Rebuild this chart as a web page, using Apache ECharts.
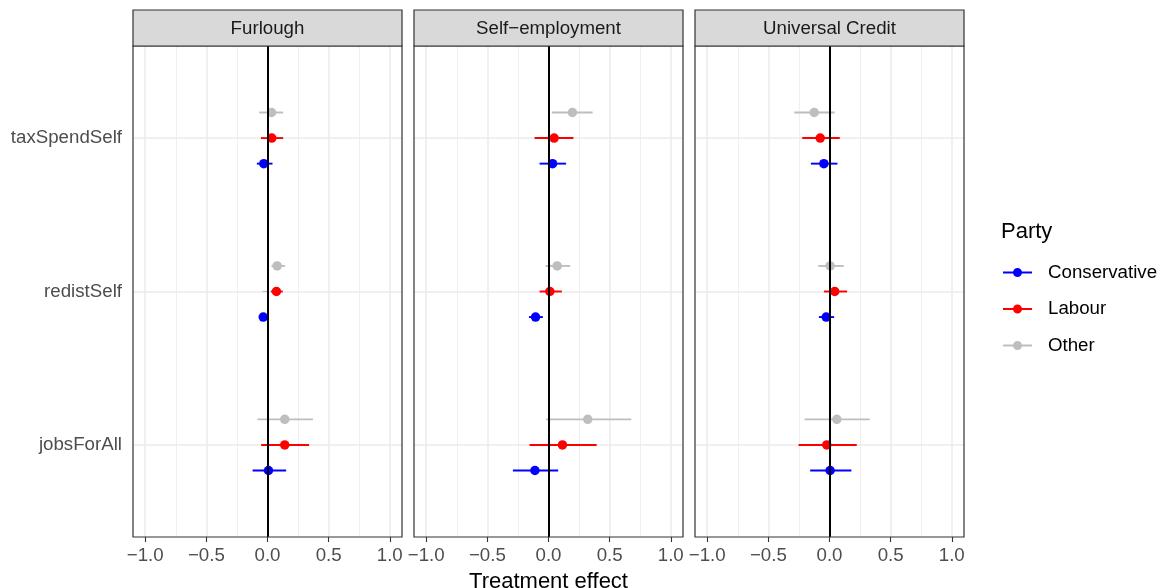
<!DOCTYPE html>
<html>
<head>
<meta charset="utf-8">
<script src="https://cdn.jsdelivr.net/npm/echarts@6/dist/echarts.min.js"></script>
<style>
  html, body { margin: 0; padding: 0; background: #ffffff; }
  #chart { width: 1159px; height: 588px; }
</style>
</head>
<body>
<div id="chart"></div>
<script>
// Outcome measures, bottom to top on the y axis
const outcomes = ['jobsForAll', 'redistSelf', 'taxSpendSelf'];
// Facets (support schemes)
const schemes = ['Furlough', 'Self\u2212employment', 'Universal Credit'];
const parties = ['Conservative', 'Labour', 'Other'];
const partyColours = ['#0000ff', '#ff0000', '#bebebe'];
const xTicks = [-1, -0.5, 0, 0.5, 1];
const xMinorGrid = [-0.75, -0.25, 0.25, 0.75];

// Each row: [estimate, lower, upper], rows follow the `outcomes` order
const furloughConservative = [[0.008, -0.122, 0.152], [-0.035, -0.068, -0.005], [-0.030, -0.087, 0.041]];
const furloughLabour       = [[0.141, -0.052, 0.340], [0.073, 0.027, 0.125], [0.035, -0.054, 0.128]];
const furloughOther        = [[0.141, -0.082, 0.372], [0.079, 0.033, 0.144], [0.033, -0.068, 0.128]];

const selfEmpConservative = [[-0.111, -0.291, 0.079], [-0.106, -0.160, -0.046], [0.033, -0.073, 0.144]];
const selfEmpLabour       = [[0.114, -0.155, 0.394], [0.011, -0.073, 0.109], [0.046, -0.114, 0.204]];
const selfEmpOther        = [[0.321, -0.019, 0.677], [0.071, -0.024, 0.177], [0.196, 0.027, 0.361]];

const ucConservative = [[0.005, -0.158, 0.179], [-0.027, -0.087, 0.038], [-0.046, -0.152, 0.065]];
const ucLabour       = [[-0.022, -0.253, 0.223], [0.043, -0.046, 0.144], [-0.076, -0.223, 0.084]];
const ucOther        = [[0.060, -0.204, 0.329], [0.005, -0.092, 0.117], [-0.125, -0.288, 0.043]];

const panelData = [
  [furloughConservative, furloughLabour, furloughOther],
  [selfEmpConservative, selfEmpLabour, selfEmpOther],
  [ucConservative, ucLabour, ucOther]
];

const FONT = 'Liberation Sans, Arial, Helvetica, sans-serif';
const SMALL = 18.7;
const LARGE = 22;
const panelLeft = [133, 414, 695];
const panelTop = 46;
const panelWidth = 269;
const panelHeight = 491;
const stripHeight = 36;
const dodge = 0.5 / 3;

const fmtTick = v => (v < 0 ? '\u2212' : '') + Math.abs(v).toFixed(1);

const grids = [], xAxes = [], yAxes = [], series = [], graphics = [];

schemes.forEach((scheme, s) => {
  grids.push({ left: panelLeft[s], top: panelTop, width: panelWidth, height: panelHeight,
               containLabel: false, outerBoundsMode: 'none' });
  xAxes.push({
    type: 'value', gridIndex: s, min: -1.1, max: 1.1,
    axisLine: { show: false },
    splitLine: { show: false },
    axisTick: { show: true, customValues: xTicks, length: 5, lineStyle: { color: '#333333', width: 1.1 } },
    axisLabel: { show: true, customValues: xTicks, formatter: fmtTick, margin: 9,
                 color: '#4d4d4d', fontSize: SMALL, fontFamily: FONT },
    name: s === 1 ? 'Treatment effect' : '',
    nameLocation: 'middle', nameGap: 34,
    nameTextStyle: { color: '#000000', fontSize: LARGE, fontFamily: FONT }
  });
  yAxes.push({
    type: 'value', gridIndex: s, min: 0.4, max: 3.6,
    axisLine: { show: false },
    splitLine: { show: false },
    axisTick: { show: s === 0, customValues: [1, 2, 3], length: 5, lineStyle: { color: '#333333', width: 1.1 } },
    axisLabel: { show: s === 0, customValues: [1, 2, 3], formatter: v => outcomes[Math.round(v) - 1],
                 margin: 11, color: '#4d4d4d', fontSize: SMALL, fontFamily: FONT }
  });

  // Panel grid lines
  const gridLines = [];
  xTicks.forEach(v => gridLines.push({ xAxis: v, lineStyle: { width: 1.5 } }));
  xMinorGrid.forEach(v => gridLines.push({ xAxis: v, lineStyle: { width: 0.8 } }));
  outcomes.forEach((o, i) => gridLines.push({ yAxis: i + 1, lineStyle: { width: 1.5 } }));
  series.push({
    type: 'scatter', xAxisIndex: s, yAxisIndex: s, data: [], silent: true, z: 1,
    markLine: { silent: true, symbol: 'none', animation: false, z: 1, label: { show: false },
                lineStyle: { color: '#ebebeb', type: 'solid' }, data: gridLines }
  });

  parties.forEach((party, k) => {
    const rows = panelData[s][k];
    const offset = (k - 1) * dodge;
    // Points
    series.push({
      type: 'scatter', name: party, xAxisIndex: s, yAxisIndex: s, z: 4,
      symbol: 'circle', symbolSize: 9.5,
      itemStyle: { color: partyColours[k], opacity: 1 },
      data: rows.map((r, i) => [r[0], i + 1 + offset]),
      animation: false
    });
    // Interval lines
    series.push({
      type: 'custom', name: party, xAxisIndex: s, yAxisIndex: s, z: 3,
      itemStyle: { color: partyColours[k] },
      encode: { x: [1, 2], y: 3 },
      data: rows.map((r, i) => [r[0], r[1], r[2], i + 1 + offset]),
      renderItem: (params, api) => {
        const a = api.coord([api.value(1), api.value(3)]);
        const b = api.coord([api.value(2), api.value(3)]);
        return { type: 'line', shape: { x1: a[0], y1: a[1], x2: b[0], y2: b[1] },
                 style: { stroke: partyColours[k], lineWidth: 1.9 } };
      },
      animation: false
    });
  });

  // Zero reference line, drawn over the marks
  series.push({
    type: 'scatter', xAxisIndex: s, yAxisIndex: s, data: [], silent: true, z: 6,
    markLine: { silent: true, symbol: 'none', animation: false, z: 6, label: { show: false },
                lineStyle: { color: '#000000', type: 'solid', width: 2 }, data: [{ xAxis: 0 }] }
  });

  // Panel border and strip
  graphics.push({
    type: 'rect', z: 100, silent: true,
    shape: { x: panelLeft[s], y: panelTop, width: panelWidth, height: panelHeight },
    style: { fill: null, stroke: '#333333', lineWidth: 1.2 }
  });
  graphics.push({
    type: 'rect', z: 100, silent: true,
    shape: { x: panelLeft[s], y: panelTop - stripHeight, width: panelWidth, height: stripHeight },
    style: { fill: '#d9d9d9', stroke: '#333333', lineWidth: 1.2 }
  });
  graphics.push({
    type: 'text', z: 101, silent: true,
    x: panelLeft[s] + panelWidth / 2, y: panelTop - stripHeight / 2 + 1,
    style: { text: scheme, fill: '#1a1a1a', fontSize: SMALL, fontFamily: FONT,
             textAlign: 'center', textVerticalAlign: 'middle' }
  });
});

graphics.push({
  type: 'text', z: 101, silent: true, x: 1001, y: 232,
  style: { text: 'Party', fill: '#000000', fontSize: LARGE, fontFamily: FONT,
           textAlign: 'left', textVerticalAlign: 'middle' }
});

const legendIcon = 'path://M0,3.5L29,3.5L29,5.5L0,5.5Z M10,4.5A4.5,4.5 0 1,1 19,4.5A4.5,4.5 0 1,1 10,4.5Z';

const chart = echarts.init(document.getElementById('chart'), null, { renderer: 'canvas' });
chart.setOption({
  animation: false,
  backgroundColor: '#ffffff',
  grid: grids,
  xAxis: xAxes,
  yAxis: yAxes,
  legend: {
    orient: 'vertical', left: 1003, top: 263, padding: 0,
    itemWidth: 29, itemHeight: 9, itemGap: 17.5,
    selectedMode: false,
    data: parties.map(name => ({ name, icon: legendIcon })),
    textStyle: { color: '#000000', fontSize: SMALL, fontFamily: FONT, padding: [0, 0, 0, 11] }
  },
  graphic: graphics,
  series: series
});
</script>
</body>
</html>
